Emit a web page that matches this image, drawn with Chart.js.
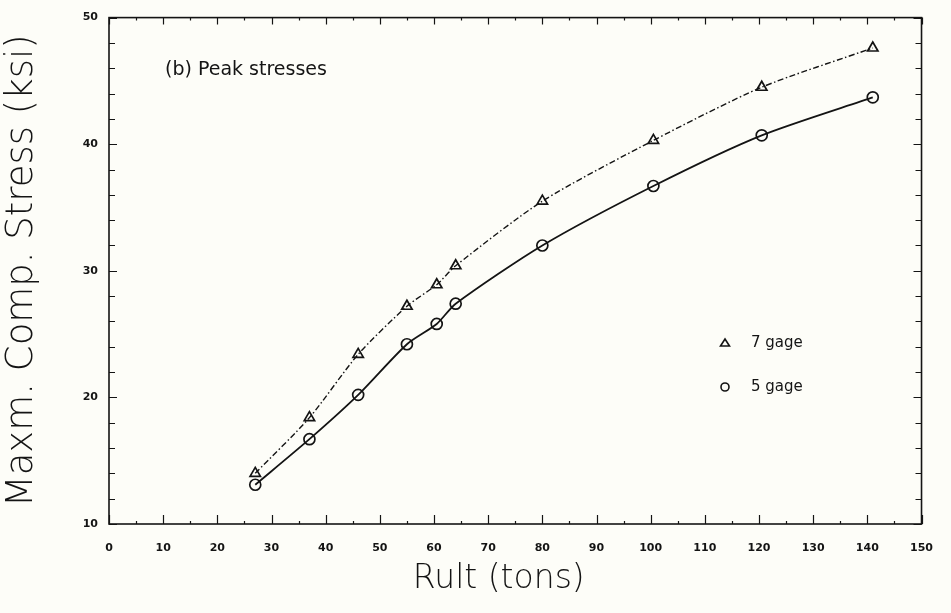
<!DOCTYPE html>
<html>
<head>
<meta charset="utf-8">
<script src="https://cdn.jsdelivr.net/npm/chart.js@4.4.1/dist/chart.umd.min.js"></script>
<style>
  html, body { margin: 0; padding: 0; background: #fdfdf8; }
  #wrap { width: 951px; height: 613px; }
</style>
</head>
<body>
<div id="wrap"><canvas id="c" width="951" height="613"></canvas></div>
<script>
// Ultimate load (tons) at which each specimen was tested
const rult = [27, 37, 46, 55, 60.5, 64, 80, 100.5, 120.5, 141];
// Peak compressive stress (ksi)
const gage7 = [14.0, 18.4, 23.4, 27.2, 28.9, 30.4, 35.5, 40.3, 44.5, 47.6];
const gage5 = [13.1, 16.7, 20.2, 24.2, 25.8, 27.4, 32.0, 36.7, 40.7, 43.7];
const seriesNames = ['7 gage', '5 gage'];
const xTicks = [0, 10, 20, 30, 40, 50, 60, 70, 80, 90, 100, 110, 120, 130, 140, 150];
const yTicks = [10, 20, 30, 40, 50];
const panelLabel = '(b) Peak stresses';

const INK = '#141414';
const FONT = '"DejaVu Sans", sans-serif';

const toPoints = (ys) => rult.map((x, i) => ({ x: x, y: ys[i] }));

// Frame, inward tick marks, panel label and key
const framePlugin = {
  id: 'frame',
  beforeDraw(chart) {
    const ctx = chart.ctx;
    ctx.save();
    ctx.fillStyle = '#fdfdf8';
    ctx.fillRect(0, 0, chart.width, chart.height);
    ctx.restore();
  },
  beforeDatasetsDraw(chart) {
    const { ctx, chartArea: a, scales } = chart;
    const xs = scales.x, ys = scales.y;
    ctx.save();
    ctx.strokeStyle = INK;
    ctx.lineWidth = 1.6;
    ctx.strokeRect(a.left, a.top, a.right - a.left, a.bottom - a.top);
    ctx.lineWidth = 1.2;
    ctx.beginPath();
    for (let v = xs.min; v <= xs.max; v += 5) {
      const px = Math.round(xs.getPixelForValue(v)) + 0.5;
      const major = v % 10 === 0;
      const lb = major ? 9 : 3;
      const lt = major ? 7 : 3;
      ctx.moveTo(px, a.bottom); ctx.lineTo(px, a.bottom - lb);
      ctx.moveTo(px, a.top); ctx.lineTo(px, a.top + lt);
    }
    for (let v = ys.min; v <= ys.max; v += 2) {
      const py = Math.round(ys.getPixelForValue(v)) + 0.5;
      const major = v % 10 === 0;
      const l = major ? 8 : 6;
      ctx.moveTo(a.left, py); ctx.lineTo(a.left + l, py);
      ctx.moveTo(a.right, py); ctx.lineTo(a.right - l, py);
    }
    ctx.stroke();

    // panel label
    ctx.fillStyle = INK;
    ctx.font = '19px ' + FONT;
    ctx.textAlign = 'left';
    ctx.textBaseline = 'middle';
    ctx.fillText(panelLabel, 165, 70);

    // key
    const kx = 725;
    const rows = [343, 387];
    ctx.lineWidth = 1.6;
    ctx.beginPath();
    ctx.moveTo(kx, rows[0] - 4);
    ctx.lineTo(kx + 4.5, rows[0] + 3);
    ctx.lineTo(kx - 4.5, rows[0] + 3);
    ctx.closePath();
    ctx.stroke();
    ctx.beginPath();
    ctx.arc(kx, rows[1], 4, 0, Math.PI * 2);
    ctx.stroke();
    ctx.font = '15px ' + FONT;
    ctx.fillText(seriesNames[0], 751, rows[0]);
    ctx.fillText(seriesNames[1], 751, rows[1]);
    ctx.restore();
  }
};

new Chart(document.getElementById('c'), {
  type: 'line',
  data: {
    datasets: [
      {
        label: seriesNames[0],
        data: toPoints(gage7),
        borderColor: INK,
        borderWidth: 1.4,
        borderDash: [6, 2.5, 1.5, 2.5],
        pointStyle: 'triangle',
        pointRadius: 6,
        pointBorderWidth: 1.7,
        pointBorderColor: INK,
        pointBackgroundColor: 'rgba(0,0,0,0)',
        tension: 0.25,
        fill: false
      },
      {
        label: seriesNames[1],
        data: toPoints(gage5),
        borderColor: INK,
        borderWidth: 1.8,
        pointStyle: 'circle',
        pointRadius: 5.5,
        pointBorderWidth: 1.7,
        pointBorderColor: INK,
        pointBackgroundColor: 'rgba(0,0,0,0)',
        tension: 0.25,
        fill: false
      }
    ]
  },
  options: {
    responsive: false,
    animation: false,
    events: [],
    layout: { padding: { top: 12, right: 20, left: 0, bottom: 0 } },
    plugins: {
      legend: { display: false },
      tooltip: { enabled: false },
      title: { display: false }
    },
    scales: {
      x: {
        type: 'linear',
        min: 0,
        max: 150,
        afterFit(scale) { scale.height = 89; },
        afterBuildTicks(scale) { scale.ticks = xTicks.map(v => ({ value: v })); },
        grid: { display: false, drawTicks: false },
        border: { display: false },
        ticks: {
          padding: 18,
          color: INK,
          maxRotation: 0,
          autoSkip: false,
          font: { family: FONT, size: 11, weight: 'bold' }
        },
        title: {
          display: true,
          text: 'Rult (tons)\u2003',
          color: INK,
          font: { family: FONT, size: 33, weight: '200', lineHeight: 1 },
          padding: { top: 0, bottom: 17 }
        }
      },
      y: {
        type: 'linear',
        min: 10,
        max: 50,
        afterFit(scale) { scale.width = 109; },
        afterBuildTicks(scale) { scale.ticks = yTicks.map(v => ({ value: v })); },
        grid: { display: false, drawTicks: false },
        border: { display: false },
        ticks: {
          padding: 11,
          color: INK,
          autoSkip: false,
          font: { family: FONT, size: 11, weight: 'bold' }
        },
        title: {
          display: true,
          text: 'Maxm. Comp. Stress (ksi)',
          color: INK,
          font: { family: FONT, size: 37, weight: '200', lineHeight: 1 },
          padding: { top: 4, bottom: 0 }
        }
      }
    }
  },
  plugins: [framePlugin]
});
</script>
</body>
</html>
